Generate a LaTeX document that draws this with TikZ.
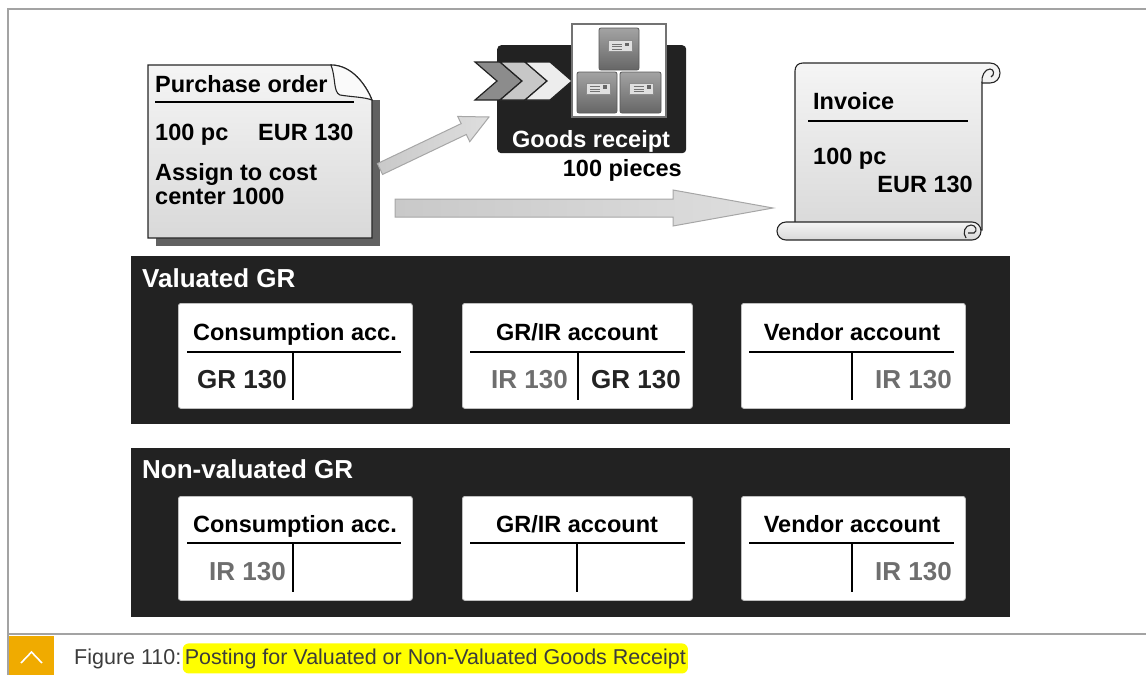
\documentclass[tikz,border=0pt]{standalone}
\usepackage{fontspec}
\setmainfont{Liberation Sans}
\usetikzlibrary{calc}

\definecolor{panelbg}{HTML}{222222}
\definecolor{framegray}{HTML}{A3A3A3}
\definecolor{irgray}{HTML}{6E6E6E}
\definecolor{grtext}{HTML}{232323}
\definecolor{sapgold}{HTML}{F0AB00}
\definecolor{arrowedge}{HTML}{A6A6A6}
\definecolor{arrowlo}{HTML}{C9C9C9}
\definecolor{arrowhi}{HTML}{DEDEDE}
\definecolor{capgray}{HTML}{3C3C3C}
\definecolor{hilite}{HTML}{FFFF00}

\tikzset{
  big/.style={font=\fontsize{23.5}{27}\selectfont\bfseries},
  amount/.style={font=\fontsize{26}{30}\selectfont\bfseries},
  captionfont/.style={font=\fontsize{21.5}{25}\selectfont},
  lbl/.style={inner sep=0pt},
  panelbox/.style={fill=panelbg, inner sep=0pt, anchor=north west},
  card/.style={fill=white, draw=black!25, line width=0.8pt, rounded corners=2.5pt, inner sep=0pt, anchor=north west},
  tline/.style={line width=2.6pt, black},
  arrowbody/.style={draw=arrowedge, line width=1pt, left color=arrowlo, right color=arrowhi},
  carton/.style={draw=black!65, line width=0.8pt, rounded corners=2pt, top color=black!36, bottom color=black!60},
  paperstyle/.style={draw=black!85, line width=1.1pt, top color=black!4, bottom color=black!15},
  frameline/.style={draw=framegray, line width=2pt},
}

% block arrow: start, tip, half shaft width, half head width, head length
\newcommand\grayarrow[5]{%
  \coordinate (hb) at ($(#2)!#5!(#1)$);
  \path[arrowbody]
    ($(#1)!#3!90:(#2)$) -- ($(hb)!#3!90:(#2)$) -- ($(hb)!#4!90:(#2)$) -- (#2)
    -- ($(hb)!#4!-90:(#2)$) -- ($(hb)!#3!-90:(#2)$) -- ($(#1)!#3!-90:(#2)$) -- cycle;
}

% one chevron of the goods-receipt banner: left x, fill colour
\newcommand\chevronat[2]{%
  \filldraw[fill=#2, draw=panelbg, line width=1.2pt, line join=miter]
    (#1,62) -- ++(25,0) -- ++(22,19) -- ++(-22,19) -- ++(-25,0) -- ++(22,-19) -- cycle;
}

% address label on a carton, centred at the given point
\newcommand\cartonlabel[1]{%
  \begin{scope}[shift={(#1)}]
    \draw[fill=black!12, draw=black!45, line width=0.6pt] (-12,-5.5) rectangle (12,5.5);
    \draw[black!55, line width=0.7pt] (-8,-2) -- (2,-2) (-8,0.5) -- (2,0.5) (-8,3) -- (2,3);
    \fill[black!60] (5,-3.5) rectangle (9,0);
  \end{scope}
}

\begin{document}
\begin{tikzpicture}[x=1pt,y=-1pt]
\useasboundingbox (0,0) rectangle (1146,675);

% page frame and caption strip
\draw[frameline] (8,675) -- (8,9) -- (1146,9);
\draw[frameline] (8,634) -- (1146,634);
\fill[sapgold] (9,636) rectangle (54,675);
\draw[white, line width=1.6pt] (21,663) -- (31.5,652) -- (42,663);
\node[anchor=base west, lbl, captionfont, text=capgray] (capno) at (74,664) {Figure 110:};
\node[anchor=base west, inner xsep=2pt, inner ysep=5pt, fill=hilite, rounded corners=6pt,
      captionfont, text=capgray] (captxt) at ($(capno.base east)+(1,0)$)
      {Posting for Valuated or Non-Valuated Goods Receipt};

% purchase order sheet with folded corner and shadow
\fill[black!62] (156,100) rectangle (380,246);
\path[paperstyle] (148,65) -- (331,65) .. controls (352,65) and (366,85) .. (372,100)
      -- (372,238) -- (148,238) -- cycle;
\filldraw[fill=black!2, draw=black!85, line width=1.1pt]
      (331,65) .. controls (336,78) and (333,92) .. (340,95)
      .. controls (352,97) and (364,97) .. (372,100)
      .. controls (366,85) and (352,65) .. (331,65) -- cycle;
\node[big, lbl, anchor=base west] (pot) at (155,92) {Purchase order};
\draw[tline] (155,102) -- (354,102);
\node[big, lbl, anchor=base west] (poq) at (155,140) {100 pc};
\node[big, lbl, anchor=base west] (poa) at (258,140) {EUR 130};
\node[big, lbl, anchor=base west] (poc1) at (155,180) {Assign to cost};
\node[big, lbl, anchor=base west] (poc2) at (155,204) {center 1000};

% goods receipt banner
\node[panelbox, rounded corners=4pt, minimum width=189pt, minimum height=108pt] (grbox) at (497,45) {};
\chevronat{475}{black!45}
\chevronat{500}{black!22}
\chevronat{525}{black!7}
\draw[fill=white, draw=black!55, line width=1.2pt] (572,24) rectangle (666,117);
\path[carton] (599,28) rectangle (639,70);
\path[carton] (577,72) rectangle (617,113);
\path[carton] (620,72) rectangle (661,113);
\cartonlabel{620,46}
\cartonlabel{598,88.5}
\cartonlabel{641.5,88.5}
\node[big, lbl, anchor=base, text=white] (grt) at (591,147) {Goods receipt};
\node[big, lbl, anchor=base east] (grq) at (682,176) {100 pieces};

% invoice scroll
\path[paperstyle] (795,230) -- (795,71) .. controls (795,66) and (798,63) .. (803,63) -- (990,63)
      .. controls (996,63) and (1000,67.5) .. (1000,73) .. controls (1000,78.5) and (996,83) .. (990,83)
      -- (982,83) -- (982,230) -- cycle;
\draw[black!85, line width=1.1pt] (982,83) .. controls (981,76) and (985,69) .. (990,69)
      .. controls (994,69) and (995,75) .. (991,77);
\path[paperstyle, rounded corners=9pt] (777,222) rectangle (981,240);
\draw[black!85, line width=1.1pt] (966,238) .. controls (962,233) and (965,225) .. (971,225)
      .. controls (976,225) and (978,231) .. (974,233) -- (968,233);
\node[big, lbl, anchor=base west] (invt) at (813,109) {Invoice};
\draw[tline] (808,121) -- (968,121);
\node[big, lbl, anchor=base west] (invq) at (813,164) {100 pc};
\node[big, lbl, anchor=base east] (inva) at (973,192) {EUR 130};

% flow arrows
\coordinate (a1s) at (380,169);
\coordinate (a1e) at (489,117);
\coordinate (a2s) at (395,208);
\coordinate (a2e) at (773,208);
\grayarrow{a1s}{a1e}{6pt}{14pt}{28pt}
\grayarrow{a2s}{a2e}{9pt}{18pt}{100pt}

% valuated goods receipt
\node[panelbox, minimum width=879pt, minimum height=168pt] (val) at (131,256) {};
\node[amount, lbl, anchor=base west, text=white] (valt) at (142,287) {Valuated GR};

\node[card, minimum width=234pt, minimum height=105pt] (v1) at (178,303) {};
\node[big, lbl, anchor=base] (v1t) at (295,340) {Consumption acc.};
\draw[tline] (187,352) -- (401,352);
\draw[tline] (293,352) -- (293,400);
\node[amount, lbl, anchor=base east, text=grtext] (v1l) at (287,388) {GR 130};

\node[card, minimum width=230pt, minimum height=105pt] (v2) at (462,303) {};
\node[big, lbl, anchor=base] (v2t) at (577,340) {GR/IR account};
\draw[tline] (470,352) -- (685,352);
\draw[tline] (578,352) -- (578,400);
\node[amount, lbl, anchor=base east, text=irgray] (v2l) at (568,388) {IR 130};
\node[amount, lbl, anchor=base west, text=grtext] (v2r) at (591,388) {GR 130};

\node[card, minimum width=224pt, minimum height=105pt] (v3) at (741,303) {};
\node[big, lbl, anchor=base] (v3t) at (852,340) {Vendor account};
\draw[tline] (749,352) -- (954,352);
\draw[tline] (852,352) -- (852,400);
\node[amount, lbl, anchor=base east, text=irgray] (v3r) at (952,388) {IR 130};

% non-valuated goods receipt
\node[panelbox, minimum width=879pt, minimum height=169pt] (nval) at (131,448) {};
\node[amount, lbl, anchor=base west, text=white] (nvalt) at (142,478) {Non-valuated GR};

\node[card, minimum width=234pt, minimum height=104pt] (n1) at (178,496) {};
\node[big, lbl, anchor=base] (n1t) at (295,532) {Consumption acc.};
\draw[tline] (187,543) -- (401,543);
\draw[tline] (293,543) -- (293,592);
\node[amount, lbl, anchor=base east, text=irgray] (n1l) at (286,580) {IR 130};

\node[card, minimum width=230pt, minimum height=104pt] (n2) at (462,496) {};
\node[big, lbl, anchor=base] (n2t) at (577,532) {GR/IR account};
\draw[tline] (470,543) -- (685,543);
\draw[tline] (577,543) -- (577,592);

\node[card, minimum width=224pt, minimum height=104pt] (n3) at (741,496) {};
\node[big, lbl, anchor=base] (n3t) at (852,532) {Vendor account};
\draw[tline] (749,543) -- (954,543);
\draw[tline] (852,543) -- (852,592);
\node[amount, lbl, anchor=base east, text=irgray] (n3r) at (952,580) {IR 130};

\end{tikzpicture}
\end{document}
